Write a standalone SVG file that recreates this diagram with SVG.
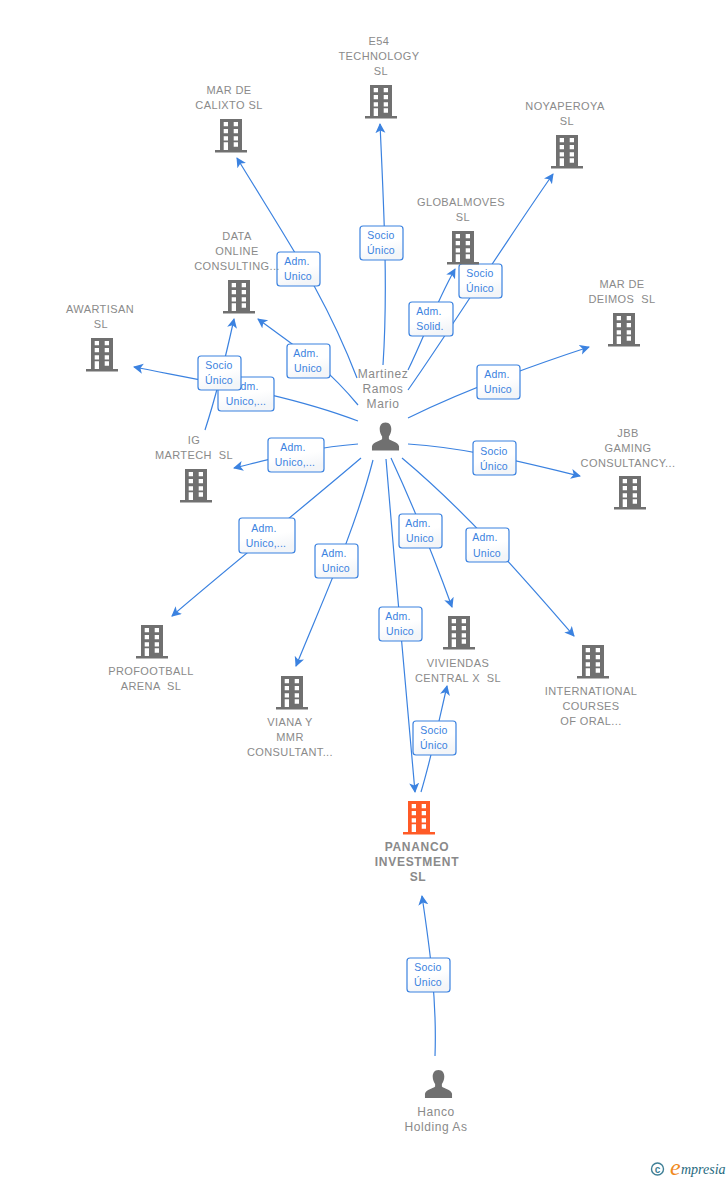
<svg xmlns="http://www.w3.org/2000/svg" width="728" height="1180" viewBox="0 0 728 1180">
<style>
text{font-family:"Liberation Sans",Arial,sans-serif}
.n{font-size:11px;fill:#8a8a8a;text-anchor:middle;letter-spacing:.4px}
.p{font-size:12px;fill:#8a8a8a;text-anchor:middle;letter-spacing:.55px}
.m{font-size:12px;font-weight:bold;fill:#8a8a8a;text-anchor:middle;letter-spacing:.7px}
.l{font-size:10.5px;fill:#3b82e0;text-anchor:middle;letter-spacing:.2px}
.b{fill:url(#g);stroke:#3b82e0;stroke-width:1.2}
.c{fill:none;stroke:#3b82e0;stroke-width:1.2;marker-end:url(#a)}
</style>
<defs>
<linearGradient id="g" x1="0" y1="0" x2="0.3" y2="1"><stop offset="0" stop-color="#fff"/><stop offset="0.6" stop-color="#fff"/><stop offset="1" stop-color="#f3f5f8"/></linearGradient>
<marker id="a" markerUnits="userSpaceOnUse" markerWidth="12" markerHeight="12" refX="9" refY="5" orient="auto"><path d="M0 0L10 5L0 10L2.5 5Z" fill="#3b82e0"/></marker>
<symbol id="bld" viewBox="0 0 34 34" overflow="visible">
<path fill-rule="evenodd" d="M6 0H28V31.500H6ZM9.700 3V7.300H14V3ZM19.700 3V7.300H24V3ZM9.700 10V14.300H14V10ZM19.700 10V14.300H24V10ZM9.700 17.300V21.600H14V17.300ZM19.700 17.300V21.600H24V17.300ZM9.700 23.300V31.500H14V23.300ZM19.700 23.300V27.800H24V23.300Z" fill="currentColor"/>
<rect x="1" y="31" width="32" height="2.500" fill="currentColor"/>
</symbol>
<symbol id="per" viewBox="0 0 30 30" overflow="visible">
<path d="M15 0C10.500 0 9 3.500 9 7C9 10.500 10.500 13 11.500 14.500V17C10 19 2 20 1 24.500V29H29V24.500C28 20 20 19 18.500 17V14.500C19.500 13 21 10.500 21 7C21 3.500 19.500 0 15 0Z" fill="#707070"/>
</symbol>
</defs>

<g id="connectors">
<path class="c" d="M383 365C388 290 384 210 380 124"/>
<path class="c" d="M357 378C325 295 290 245 237 158"/>
<path class="c" d="M408 390C450 330 500 250 553 174"/>
<path class="c" d="M408 370C425 335 435 305 455 269"/>
<path class="c" d="M358 405C325 365 300 350 258 319"/>
<path class="c" d="M358 421C290 395 210 382 134 367"/>
<path class="c" d="M205 430C218 390 225 360 234 319"/>
<path class="c" d="M358 444C315 447 275 458 234 468"/>
<path class="c" d="M408 418C465 390 525 368 589 347"/>
<path class="c" d="M408 444C470 448 525 463 580 476"/>
<path class="c" d="M361 458C300 510 235 562 172 616"/>
<path class="c" d="M373 460C355 530 325 595 296 666"/>
<path class="c" d="M386 459C395 570 405 680 415 792"/>
<path class="c" d="M391 458C415 510 435 560 452 607"/>
<path class="c" d="M402 458C470 515 525 580 574 636"/>
<path class="c" d="M421 792C432 755 438 725 447 686"/>
<path class="c" d="M435 1056C437 1000 430 950 422 896"/>
</g>

<g id="edge-labels">
<g><rect class="b" x="360" y="226" width="43" height="34" rx="3"/><text class="l" x="381" y="239">Socio</text><text class="l" x="381" y="254">Único</text></g>
<g><rect class="b" x="277" y="252" width="43" height="34" rx="3"/><text class="l" x="297" y="265">Adm.</text><text class="l" x="298" y="280">Unico</text></g>
<g><rect class="b" x="409" y="302" width="44" height="34" rx="3"/><text class="l" x="429" y="315">Adm.</text><text class="l" x="430" y="330">Solid.</text></g>
<g><rect class="b" x="459" y="264" width="43" height="34" rx="3"/><text class="l" x="480" y="277">Socio</text><text class="l" x="480" y="292">Único</text></g>
<g><rect class="b" x="287" y="344" width="43" height="34" rx="3"/><text class="l" x="306" y="357">Adm.</text><text class="l" x="308" y="372">Unico</text></g>
<g><rect class="b" x="218" y="377" width="56" height="34" rx="3"/><text class="l" x="246" y="390">Adm.</text><text class="l" x="246" y="405">Unico,...</text></g>
<g><rect class="b" x="198" y="356" width="43" height="34" rx="3"/><text class="l" x="219" y="369">Socio</text><text class="l" x="219" y="384">Único</text></g>
<g><rect class="b" x="477" y="365" width="43" height="34" rx="3"/><text class="l" x="497" y="378">Adm.</text><text class="l" x="498" y="393">Unico</text></g>
<g><rect class="b" x="268" y="438" width="56" height="34" rx="3"/><text class="l" x="293" y="451">Adm.</text><text class="l" x="295" y="466">Unico,...</text></g>
<g><rect class="b" x="473" y="441" width="43" height="34" rx="3"/><text class="l" x="494" y="455">Socio</text><text class="l" x="494" y="470">Único</text></g>
<g><rect class="b" x="239" y="518" width="56" height="35" rx="3"/><text class="l" x="264" y="532">Adm.</text><text class="l" x="266" y="547">Unico,...</text></g>
<g><rect class="b" x="399" y="514" width="43" height="34" rx="3"/><text class="l" x="418" y="527">Adm.</text><text class="l" x="420" y="542">Unico</text></g>
<g><rect class="b" x="466" y="528" width="43" height="34" rx="3"/><text class="l" x="485" y="541">Adm.</text><text class="l" x="487" y="557">Unico</text></g>
<g><rect class="b" x="315" y="544" width="43" height="34" rx="3"/><text class="l" x="334" y="557">Adm.</text><text class="l" x="336" y="572">Unico</text></g>
<g><rect class="b" x="379" y="607" width="43" height="34" rx="3"/><text class="l" x="398" y="620">Adm.</text><text class="l" x="400" y="635">Unico</text></g>
<g><rect class="b" x="413" y="721" width="43" height="34" rx="3"/><text class="l" x="434" y="734">Socio</text><text class="l" x="434" y="749">Único</text></g>
<g><rect class="b" x="407" y="958" width="43" height="34" rx="3"/><text class="l" x="428" y="971">Socio</text><text class="l" x="428" y="986">Único</text></g>
</g>

<g id="n-e54" color="#707070"><text class="n" x="379" y="45">E54</text><text class="n" x="379" y="60">TECHNOLOGY</text><text class="n" x="381" y="75">SL</text><use href="#bld" x="364" y="85" width="34" height="34"/></g>
<g id="n-calixto" color="#707070"><text class="n" x="229" y="94">MAR DE</text><text class="n" x="229" y="109">CALIXTO SL</text><use href="#bld" x="214" y="119" width="34" height="34"/></g>
<g id="n-noya" color="#707070"><text class="n" x="565" y="110">NOYAPEROYA</text><text class="n" x="567" y="125">SL</text><use href="#bld" x="550" y="135" width="34" height="34"/></g>
<g id="n-global" color="#707070"><text class="n" x="461" y="206">GLOBALMOVES</text><text class="n" x="463" y="221">SL</text><use href="#bld" x="446" y="231" width="34" height="34"/></g>
<g id="n-data" color="#707070"><text class="n" x="237" y="240">DATA</text><text class="n" x="237" y="255">ONLINE</text><text class="n" x="237" y="270">CONSULTING...</text><use href="#bld" x="222" y="280" width="34" height="34"/></g>
<g id="n-deimos" color="#707070"><text class="n" x="622" y="288">MAR DE</text><text class="n" xml:space="preserve" x="622" y="303">DEIMOS  SL</text><use href="#bld" x="607" y="313" width="34" height="34"/></g>
<g id="n-awartisan" color="#707070"><text class="n" x="100" y="313">AWARTISAN</text><text class="n" x="101" y="328">SL</text><use href="#bld" x="85" y="338" width="34" height="34"/></g>
<g id="n-ig" color="#707070"><text class="n" x="194" y="444">IG</text><text class="n" xml:space="preserve" x="194" y="459">MARTECH  SL</text><use href="#bld" x="179" y="469" width="34" height="34"/></g>
<g id="n-jbb" color="#707070"><text class="n" x="628" y="437">JBB</text><text class="n" x="628" y="452">GAMING</text><text class="n" x="628" y="467">CONSULTANCY...</text><use href="#bld" x="613" y="476" width="34" height="34"/></g>
<g id="n-profootball" color="#707070"><use href="#bld" x="135" y="625" width="34" height="34"/><text class="n" x="151" y="675">PROFOOTBALL</text><text class="n" xml:space="preserve" x="151" y="690">ARENA  SL</text></g>
<g id="n-viviendas" color="#707070"><use href="#bld" x="442" y="616" width="34" height="34"/><text class="n" x="458" y="667">VIVIENDAS</text><text class="n" xml:space="preserve" x="458" y="682">CENTRAL X  SL</text></g>
<g id="n-international" color="#707070"><use href="#bld" x="576" y="645" width="34" height="34"/><text class="n" x="591" y="695">INTERNATIONAL</text><text class="n" x="591" y="710">COURSES</text><text class="n" x="591" y="725">OF ORAL...</text></g>
<g id="n-viana" color="#707070"><use href="#bld" x="275" y="676" width="34" height="34"/><text class="n" x="290" y="726">VIANA Y</text><text class="n" x="290" y="741">MMR</text><text class="n" x="290" y="756">CONSULTANT...</text></g>
<g id="n-pananco" color="#ff5a26"><use href="#bld" x="402" y="801" width="34" height="34"/><text class="m" x="417" y="851">PANANCO</text><text class="m" x="417" y="866">INVESTMENT</text><text class="m" x="418" y="881">SL</text></g>
<g id="n-mario"><text class="p" x="383" y="378">Martinez</text><text class="p" x="383" y="393">Ramos</text><text class="p" x="383" y="408">Mario</text><use href="#per" x="371" y="422" width="29" height="30"/></g>
<g id="n-hanco"><use href="#per" x="424" y="1070" width="29" height="29"/><text class="p" x="436" y="1116">Hanco</text><text class="p" x="436" y="1131">Holding As</text></g>

<g id="logo"><circle cx="657.500" cy="1169" r="6" fill="none" stroke="#3f7f96" stroke-width="1.400"/><text x="657.500" y="1172.500" font-size="10" font-weight="bold" fill="#3f7f96" text-anchor="middle">c</text><text x="670" y="1175" font-size="24" font-style="italic" fill="#f08a1d" style="font-family:'Liberation Serif',serif">e</text><text x="681" y="1174" font-size="14" font-style="italic" fill="#1f6a80" style="font-family:'Liberation Serif',serif">mpresia</text></g>
</svg>
